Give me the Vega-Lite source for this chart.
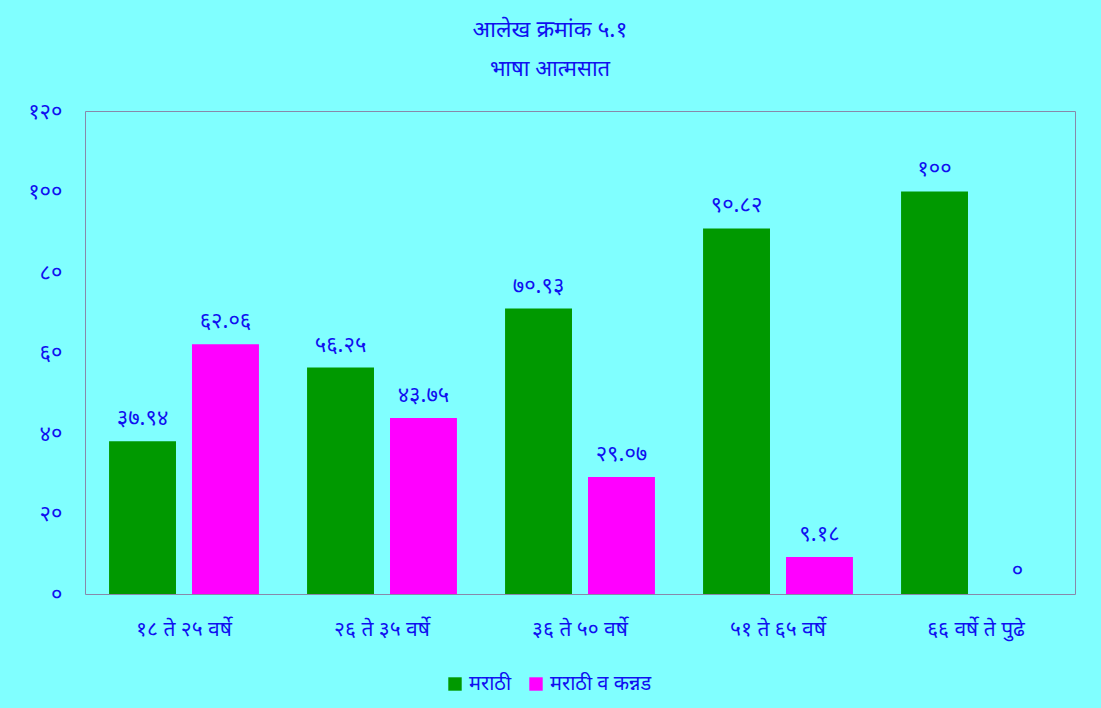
{
  "$schema": "https://vega.github.io/schema/vega-lite/v6.json",
  "autosize": {"type": "none"},
  "width": 990,
  "height": 483,
  "padding": {"left": 85, "top": 111, "right": 26, "bottom": 114},
  "background": "#80FFFF",
  "title": {
    "text": "आलेख क्रमांक ५.१",
    "subtitle": "भाषा आत्मसात",
    "anchor": "middle",
    "dx": -30,
    "offset": 20,
    "fontSize": 23,
    "fontWeight": "normal",
    "subtitleFontSize": 22,
    "subtitlePadding": 17,
    "color": "#1010F0",
    "subtitleColor": "#1010F0",
    "font": "Noto Sans",
    "subtitleFont": "Noto Sans"
  },
  "data": {
    "values": [
      {"group": "१८ ते २५ वर्षे", "lang": "मराठी", "value": 37.94, "label": "३७.९४"},
      {"group": "१८ ते २५ वर्षे", "lang": "मराठी व कन्नड", "value": 62.06, "label": "६२.०६"},
      {"group": "२६ ते ३५ वर्षे", "lang": "मराठी", "value": 56.25, "label": "५६.२५"},
      {"group": "२६ ते ३५ वर्षे", "lang": "मराठी व कन्नड", "value": 43.75, "label": "४३.७५"},
      {"group": "३६ ते ५० वर्षे", "lang": "मराठी", "value": 70.93, "label": "७०.९३"},
      {"group": "३६ ते ५० वर्षे", "lang": "मराठी व कन्नड", "value": 29.07, "label": "२९.०७"},
      {"group": "५१ ते ६५ वर्षे", "lang": "मराठी", "value": 90.82, "label": "९०.८२"},
      {"group": "५१ ते ६५ वर्षे", "lang": "मराठी व कन्नड", "value": 9.18, "label": "९.१८"},
      {"group": "६६ वर्षे ते पुढे", "lang": "मराठी", "value": 100, "label": "१००"},
      {"group": "६६ वर्षे ते पुढे", "lang": "मराठी व कन्नड", "value": 0, "label": "०"}
    ]
  },
  "encoding": {
    "x": {
      "field": "group",
      "type": "nominal",
      "sort": null,
      "scale": {"paddingInner": 0, "paddingOuter": 0},
      "axis": {
        "title": null,
        "labelAngle": 0,
        "labelFontSize": 21,
        "labelColor": "#1010F0",
        "labelFont": "Noto Sans",
        "labelPadding": 24,
        "ticks": false,
        "domain": false
      }
    },
    "xOffset": {
      "field": "lang",
      "type": "nominal",
      "sort": ["मराठी", "मराठी व कन्नड"],
      "scale": {"paddingInner": 0.193, "paddingOuter": 0.29}
    },
    "y": {
      "field": "value",
      "type": "quantitative",
      "scale": {"domain": [0, 120], "nice": false},
      "axis": {
        "title": null,
        "values": [0, 20, 40, 60, 80, 100, 120],
        "grid": false,
        "ticks": false,
        "domain": false,
        "labelFontSize": 22,
        "labelColor": "#1010F0",
        "labelFont": "Noto Sans",
        "labelPadding": 23,
        "labelExpr": "replace(replace(replace(replace(replace(replace(datum.label, regexp('0','g'), '०'), regexp('1','g'), '१'), regexp('2','g'), '२'), regexp('4','g'), '४'), regexp('6','g'), '६'), regexp('8','g'), '८')"
      }
    }
  },
  "layer": [
    {
      "mark": {"type": "bar"},
      "encoding": {
        "color": {
          "field": "lang",
          "type": "nominal",
          "sort": ["मराठी", "मराठी व कन्नड"],
          "scale": {"domain": ["मराठी", "मराठी व कन्नड"], "range": ["#009900", "#FF00FF"]},
          "legend": {
            "title": null,
            "orient": "none",
            "direction": "horizontal",
            "legendX": 360,
            "legendY": 563,
            "symbolType": "square",
            "symbolSize": 180,
            "symbolStrokeWidth": 0,
            "symbolOpacity": 1,
            "labelFontSize": 20,
            "labelColor": "#1010F0",
            "labelFont": "Noto Sans",
            "columnPadding": 14,
            "labelOffset": 4
          }
        }
      }
    },
    {
      "mark": {"type": "text", "baseline": "bottom", "dy": -11, "fontSize": 22, "font": "Noto Sans", "color": "#1010F0"},
      "encoding": {
        "text": {"field": "label", "type": "nominal"}
      }
    }
  ],
  "config": {
    "view": {"stroke": "#8888AA", "strokeWidth": 1}
  }
}
